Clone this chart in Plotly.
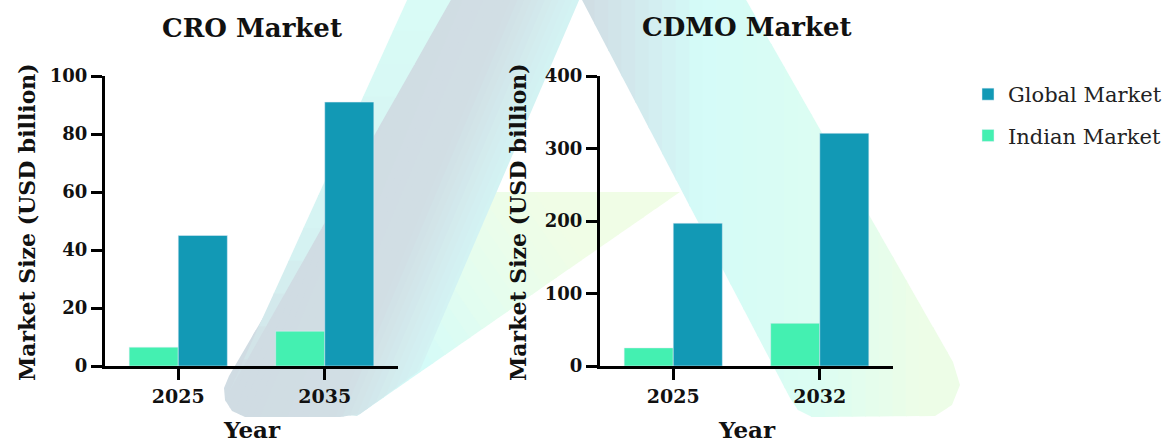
import math
import plotly.graph_objects as go

W, H = 1173, 446

# ---------------- data ----------------
cro_years = ["2025", "2035"]
cro_indian = [6.5, 12]
cro_global = [45, 91]

cdmo_years = ["2025", "2032"]
cdmo_indian = [25, 59]
cdmo_global = [197, 321]

series_names = ["Indian Market", "Global Market"]
color_indian = "#44F0B1"
color_global = "#1299B5"

FONT = "DejaVu Serif"

fig = go.Figure()

# ---------------- decorative watermark (background logo, gradient imitated by slices) ----------------
def hex2rgb(h):
    h = h.lstrip("#")
    return tuple(int(h[i:i + 2], 16) for i in (0, 2, 4))


def interp_color(stops, t):
    if t <= stops[0][0]:
        return stops[0][1]
    for (t0, c0), (t1, c1) in zip(stops, stops[1:]):
        if t <= t1:
            f = (t - t0) / (t1 - t0) if t1 > t0 else 0
            a, b = hex2rgb(c0), hex2rgb(c1)
            return "rgb(%d,%d,%d)" % tuple(round(a[i] + (b[i] - a[i]) * f) for i in range(3))
    return stops[-1][1]


def clip(poly, d, tval, keep_ge):
    out = []
    n = len(poly)
    for i in range(n):
        p, q = poly[i], poly[(i + 1) % n]
        tp = p[0] * d[0] + p[1] * d[1]
        tq = q[0] * d[0] + q[1] * d[1]
        ip = tp >= tval if keep_ge else tp <= tval
        iq = tq >= tval if keep_ge else tq <= tval
        if ip:
            out.append(p)
        if ip != iq:
            f = (tval - tp) / (tq - tp)
            out.append((p[0] + (q[0] - p[0]) * f, p[1] + (q[1] - p[1]) * f))
    return out


def to_path(pts):
    s = ""
    for i, (x, y) in enumerate(pts):
        s += ("M" if i == 0 else "L") + f"{x / W:.5f},{1 - y / H:.5f} "
    return s + "Z"


def gradient_shapes(pts, d, stops, n=28):
    L = math.hypot(*d)
    d = (d[0] / L, d[1] / L)
    ts = [p[0] * d[0] + p[1] * d[1] for p in pts]
    tmin, tmax = min(ts), max(ts)
    out = []
    for i in range(n):
        t0 = tmin + (tmax - tmin) * i / n
        t1 = tmin + (tmax - tmin) * (i + 1) / n
        part = clip(pts, d, t0, True)
        if len(part) < 3:
            continue
        part = clip(part, d, t1 + 1.0, False)
        if len(part) < 3:
            continue
        col = interp_color(stops, (t0 + t1) / 2)
        out.append(dict(type="path", xref="paper", yref="paper", path=to_path(part),
                        fillcolor=col, line=dict(width=0), layer="below"))
    return out


shapes = []
# right stroke
right_stroke = [(581, -2), (745, -2), (953, 362), (960, 385), (952, 405), (935, 416),
                (812, 417), (798, 410), (790, 398)]
shapes += gradient_shapes(right_stroke, (1, 0),
                          [(581, "#D0DCE3"), (640, "#D2EAEE"), (700, "#D4FBF8"),
                           (820, "#DCFDF2"), (920, "#EDFDE7")])
# cross bar
cross_bar = [(490, 192), (680, 192), (357, 416), (320, 412), (400, 300)]
shapes += gradient_shapes(cross_bar, (0.823, -0.568),
                          [(-10, "#D2DEE4"), (90, "#D3F3F3"), (140, "#D4FBF8"),
                           (230, "#E4FDEF"), (330, "#F0FDE6")])
# left stroke main part
left_stroke = [(450, -2), (580, -2), (420, 370), (360, 414), (340, 417), (245, 417),
               (232, 411), (225, 400), (224, 388), (229, 376)]
shapes += gradient_shapes(left_stroke, (1, 0.42),
                          [(380, "#D0DCE3"), (470, "#D1DEE4"), (515, "#D3EEF0"), (560, "#D4FBF8")])
# left stroke outer light wedge
left_wedge = [(408, -2), (452, -2), (229, 392)]
shapes += gradient_shapes(left_wedge, (0, 1),
                          [(0, "#D9FCF6"), (250, "#D5F2F2"), (392, "#D0DCE3")], n=12)

# ---------------- bars ----------------
fig.add_trace(go.Bar(x=cro_years, y=cro_indian, name=series_names[0], marker_color=color_indian,
                     legendgroup="ind", legendrank=2, xaxis="x", yaxis="y"))
fig.add_trace(go.Bar(x=cro_years, y=cro_global, name=series_names[1], marker_color=color_global,
                     legendgroup="glob", legendrank=1, xaxis="x", yaxis="y"))
fig.add_trace(go.Bar(x=cdmo_years, y=cdmo_indian, name=series_names[0], marker_color=color_indian,
                     legendgroup="ind", showlegend=False, xaxis="x2", yaxis="y2"))
fig.add_trace(go.Bar(x=cdmo_years, y=cdmo_global, name=series_names[1], marker_color=color_global,
                     legendgroup="glob", showlegend=False, xaxis="x2", yaxis="y2"))

xd1 = [105 / W, 398 / W]
xd2 = [600 / W, 893 / W]
yd = [(H - 366) / H, (H - 76) / H]

common_x = dict(type="category", showline=True, linecolor="black", linewidth=3,
                ticks="outside", ticklen=11, tickwidth=2.5, tickcolor="black",
                showgrid=False, zeroline=False, automargin=False,
                tickfont=dict(family=FONT, size=19, color="#111", weight="bold"),
                range=[-0.5, 1.5])
common_y = dict(showline=True, linecolor="black", linewidth=3,
                ticks="outside", ticklen=11, tickwidth=2.5, tickcolor="black",
                showgrid=False, zeroline=False, automargin=False,
                tickfont=dict(family=FONT, size=18, color="#111", weight="bold"))

def ann(text, xpx, ypx, size, angle=0):
    return dict(text=text, x=xpx / W, y=1 - ypx / H, xref="paper", yref="paper",
                xanchor="center", yanchor="middle", textangle=angle, showarrow=False,
                font=dict(family=FONT, size=size, color="#111", weight="bold"))

annotations = [
    ann("CRO Market", (105 + 398) / 2, 28, 26),
    ann("CDMO Market", (600 + 893) / 2, 27, 26),
    ann("Year", (105 + 398) / 2, 429, 23),
    ann("Year", (600 + 893) / 2, 429, 23),
    ann("Market Size (USD billion)", 27, 222, 22, -90),
    ann("Market Size (USD billion)", 518, 222, 22, -90),
]

fig.update_layout(
    width=W, height=H,
    margin=dict(l=0, r=0, t=0, b=0, autoexpand=False),
    paper_bgcolor="white", plot_bgcolor="rgba(0,0,0,0)",
    barmode="group", bargap=0.33, bargroupgap=0,
    xaxis=dict(domain=xd1, anchor="y", **common_x),
    yaxis=dict(domain=yd, anchor="x", range=[0, 100], dtick=20, **common_y),
    xaxis2=dict(domain=xd2, anchor="y2", **common_x),
    yaxis2=dict(domain=yd, anchor="x2", range=[0, 400], dtick=100, **common_y),
    legend=dict(x=968 / W, y=1 - 74 / H, xanchor="left", yanchor="top",
                traceorder="grouped", tracegroupgap=11,
                font=dict(family=FONT, size=21, color="#222"),
                bgcolor="rgba(0,0,0,0)"),
    shapes=shapes,
    annotations=annotations,
    showlegend=True,
)

fig.write_html("out.html")
